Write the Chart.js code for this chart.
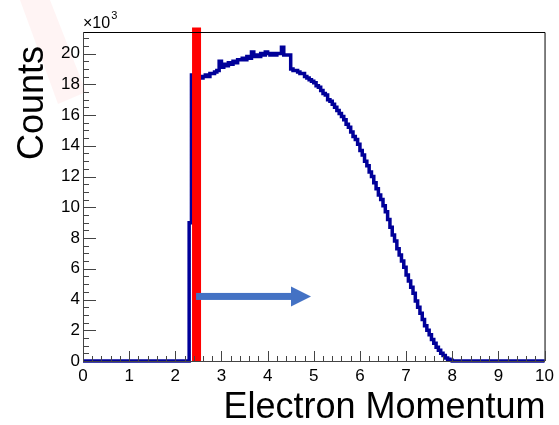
<!DOCTYPE html>
<html>
<head>
<meta charset="utf-8">
<script src="https://cdn.jsdelivr.net/npm/chart.js@4.4.0/dist/chart.umd.min.js"></script>
<style>
  html, body { margin: 0; padding: 0; background: #fff; }
  #wrap { width: 559px; height: 425px; position: relative; }
</style>
</head>
<body>
<div id="wrap"><canvas id="chart" width="559" height="425"></canvas></div>
<script>
// electron momentum histogram, ROOT-like look
// counts are in units of 10^3, one value per 0.05 wide bin starting at binStart
const binStart = 2.30;
const binWidth = 0.05;
const counts = [
  9.0, 18.6, 18.4, 18.3, 18.5, 18.4, 18.5, 18.6, 18.5, 18.7,
  18.7, 18.8, 18.9, 19.5, 19.1, 19.3, 19.2, 19.4, 19.3, 19.5,
  19.4, 19.6, 19.6, 19.7, 19.6, 19.8, 19.7, 20.1, 19.8, 19.9,
  19.8, 20.0, 19.9, 20.1, 20.0, 19.9, 20.0, 19.9, 20.0, 20.0,
  20.4, 19.9, 19.9, 19.9, 19.0, 18.9, 18.9, 18.8, 18.7, 18.7,
  18.5, 18.4, 18.3, 18.2, 18.1, 17.9, 17.8, 17.6, 17.4, 17.3,
  17.0, 16.9, 16.7, 16.5, 16.3, 16.1, 15.9, 15.7, 15.4, 15.2,
  14.9, 14.6, 14.4, 14.1, 13.7, 13.4, 13.0, 12.7, 12.3, 12.0,
  11.6, 11.2, 10.8, 10.5, 10.1, 9.7, 9.2, 8.7, 8.2, 7.8,
  7.3, 6.9, 6.5, 6.1, 5.6, 5.2, 4.8, 4.4, 3.9, 3.5,
  3.1, 2.7, 2.3, 2.0, 1.7, 1.4, 1.15, 0.9, 0.7, 0.5,
  0.35, 0.2, 0.12, 0.05, 0
];

const xTicks = [0, 1, 2, 3, 4, 5, 6, 7, 8, 9, 10];
const yTicks = [0, 2, 4, 6, 8, 10, 12, 14, 16, 18, 20];
const xRange = [0, 10];
const yRange = [0, 21.4];

// momentum cut (red line) and the "keep" arrow
const cutValue = 2.46;
const cutTop = 21.7;
const arrowFrom = 2.45;
const arrowTo = 4.94;
const arrowLevel = 4.2;

const histPoints = [{ x: xRange[0], y: 0 }];
counts.forEach((c, i) => histPoints.push({ x: binStart + i * binWidth, y: c }));
histPoints.push({ x: binStart + counts.length * binWidth, y: 0 });
histPoints.push({ x: xRange[1], y: 0 });

const FONT = '"Liberation Sans", Arial, sans-serif';

const rootFrame = {
  id: 'rootFrame',
  beforeDraw(chart) {
    const ctx = chart.ctx;
    ctx.save();
    ctx.fillStyle = '#fff';
    ctx.fillRect(0, 0, chart.width, chart.height);
    // faint watermark stroke from the slide
    ctx.fillStyle = 'rgba(255, 70, 70, 0.06)';
    ctx.beginPath();
    ctx.moveTo(20, 0);
    ctx.lineTo(50, 0);
    ctx.lineTo(86, 92);
    ctx.lineTo(58, 104);
    ctx.closePath();
    ctx.fill();
    ctx.restore();
  },
  afterDatasetsDraw(chart) {
    const { ctx, chartArea: a, scales: { x, y } } = chart;
    ctx.save();

    // frame
    ctx.strokeStyle = '#000';
    ctx.lineWidth = 1;
    ctx.beginPath();
    ctx.moveTo(a.left, a.top + 0.5);
    ctx.lineTo(a.right + 0.5, a.top + 0.5);
    ctx.lineTo(a.right + 0.5, a.bottom);
    ctx.stroke();

    // axes
    ctx.strokeStyle = '#444';
    ctx.beginPath();
    ctx.moveTo(a.left + 0.5, a.top);
    ctx.lineTo(a.left + 0.5, a.bottom + 0.5);
    ctx.lineTo(a.right + 0.5, a.bottom + 0.5);
    ctx.stroke();

    // inward ticks, x: major every 1, minor every 0.2
    ctx.beginPath();
    for (let k = 0; k <= 50; k++) {
      const v = xRange[0] + k * 0.2;
      const px = Math.round(x.getPixelForValue(v)) + 0.5;
      const len = k % 5 === 0 ? 10 : 5;
      ctx.moveTo(px, a.bottom);
      ctx.lineTo(px, a.bottom - len);
    }
    // y: major every 2, minor every 0.5
    for (let k = 0; k * 0.5 <= yRange[1]; k++) {
      const v = k * 0.5;
      const py = Math.round(y.getPixelForValue(v)) + 0.5;
      const len = k % 4 === 0 ? 13 : 6;
      ctx.moveTo(a.left, py);
      ctx.lineTo(a.left + len, py);
    }
    ctx.stroke();

    // arrow
    const ay = y.getPixelForValue(arrowLevel);
    const ax0 = x.getPixelForValue(arrowFrom);
    const ax1 = x.getPixelForValue(arrowTo);
    ctx.fillStyle = '#4472C4';
    ctx.fillRect(ax0, ay - 3.5, ax1 - ax0 - 19, 7);
    ctx.beginPath();
    ctx.moveTo(ax1, ay);
    ctx.lineTo(ax1 - 20, ay - 10);
    ctx.lineTo(ax1 - 20, ay + 10);
    ctx.closePath();
    ctx.fill();

    // titles
    ctx.fillStyle = '#000';
    ctx.font = '36px ' + FONT;
    ctx.textAlign = 'right';
    ctx.textBaseline = 'alphabetic';
    ctx.fillText('Electron Momentum', a.right + 1, 418);

    ctx.translate(43, a.top + 14);
    ctx.rotate(-Math.PI / 2);
    ctx.fillText('Counts', 0, 0);
    ctx.restore();

    // exponent label
    ctx.save();
    ctx.fillStyle = '#000';
    ctx.textAlign = 'left';
    ctx.font = '16px ' + FONT;
    ctx.fillText('\u00d710', a.left, a.top - 4);
    const w = ctx.measureText('\u00d710').width;
    ctx.font = '11px ' + FONT;
    ctx.fillText('3', a.left + w + 1, a.top - 13);
    ctx.restore();
  }
};

new Chart(document.getElementById('chart'), {
  type: 'line',
  data: {
    datasets: [
      {
        label: 'cut',
        data: [{ x: cutValue, y: 0 }, { x: cutValue, y: cutTop }],
        borderColor: '#ff0000',
        borderWidth: 9,
        borderCapStyle: 'butt',
        pointRadius: 0,
        clip: false,
        order: 0
      },
      {
        label: 'momentum',
        data: histPoints,
        borderColor: '#000099',
        borderWidth: 3.5,
        borderJoinStyle: 'miter',
        stepped: 'before',
        pointRadius: 0,
        fill: false,
        clip: false,
        order: 1
      }
    ]
  },
  options: {
    responsive: false,
    animation: false,
    layout: { padding: { top: 32, right: 13, left: 0, bottom: 0 } },
    plugins: { legend: { display: false }, tooltip: { enabled: false } },
    scales: {
      x: {
        type: 'linear',
        min: xRange[0],
        max: xRange[1],
        afterBuildTicks: (s) => { s.ticks = xTicks.map((v) => ({ value: v })); },
        afterFit: (s) => { s.height = 425 - 361; },
        grid: { display: false, drawTicks: false },
        border: { display: false },
        ticks: {
          color: '#000',
          font: { family: FONT, size: 17 },
          padding: 5,
          maxRotation: 0,
          autoSkip: false
        }
      },
      y: {
        type: 'linear',
        min: yRange[0],
        max: yRange[1],
        afterBuildTicks: (s) => { s.ticks = yTicks.map((v) => ({ value: v })); },
        afterFit: (s) => { s.width = 83; },
        grid: { display: false, drawTicks: false },
        border: { display: false },
        ticks: {
          color: '#000',
          font: { family: FONT, size: 17 },
          padding: 3,
          autoSkip: false
        }
      }
    }
  },
  plugins: [rootFrame]
});
</script>
</body>
</html>
